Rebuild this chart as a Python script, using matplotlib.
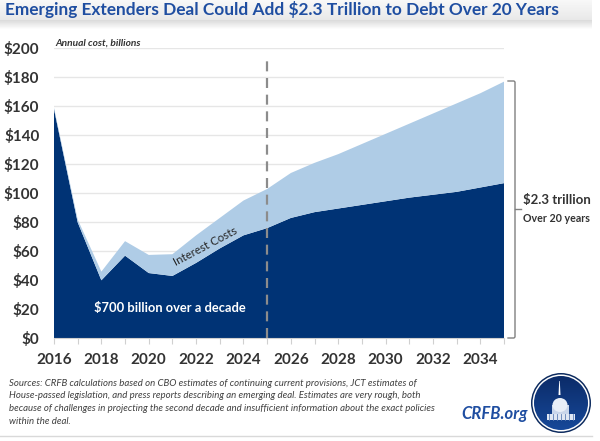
import numpy as np
import matplotlib
matplotlib.use('Agg')
import matplotlib.pyplot as plt
from matplotlib.patches import Circle, Polygon, Rectangle, Ellipse

plt.rcParams['font.family'] = ['Lato', 'DejaVu Sans']

# values, $ billions
years = list(range(2016, 2036))
base_cost = [158, 80, 40, 57, 45, 43, 52, 62, 71, 76,
             83, 87, 89.5, 92, 94.5, 97, 99, 101, 104, 107]
total_cost = [159, 82, 46, 67, 57.5, 58, 71, 83, 95, 103,
              114, 121, 127, 134, 141, 148, 155, 162, 169, 177]
y_ticks = list(range(0, 201, 20))
x_labels = list(range(2016, 2035, 2))

NAVY = '#003375'
LIGHT = '#afcce6'
TEXT = '#333333'
BLUE = '#1f4ea1'
W, H = 600, 441

fig = plt.figure(figsize=(6, 4.41), dpi=100, facecolor='white')

# overlay in pixel coordinates for the decorations and notes
bg = fig.add_axes([0, 0, 1, 1], zorder=0)
bg.axis('off')

# title bar with soft shadow
band = np.concatenate([np.linspace(0.97, 0.91, 20), np.linspace(0.86, 1.0, 10)])[:, None]
bg.imshow(band, cmap='gray', vmin=0, vmax=1, extent=(0, 592, 30, 0), aspect='auto')
bg.set_xlim(0, W)
bg.set_ylim(H, 0)
bg.plot([0, 592], [436, 436], color='#d9d9d9', lw=1)

# main chart
ax = fig.add_axes([54 / W, 1 - 338.3 / H, 450 / W, 290 / H], zorder=1)
ax.patch.set_alpha(0)
ax.stackplot(years, base_cost, np.array(total_cost) - np.array(base_cost),
             colors=[NAVY, LIGHT], linewidth=0, zorder=2)
ax.set_xlim(2016, 2035)
ax.set_ylim(0, 200)
ax.set_yticks(y_ticks)
ax.set_yticklabels([f'${v}' for v in y_ticks], fontsize=11, fontweight='bold', color=TEXT)
ax.set_xticks(years)
ax.set_xticklabels([str(y) if y in x_labels else '' for y in years],
                   fontsize=11, fontweight='bold', color=TEXT)
ax.tick_params(axis='y', length=0, pad=10.5)
ax.tick_params(axis='x', length=4, color='#d0d0d0', pad=6.5)
ax.grid(axis='y', color='#e6e6e6', lw=1)
ax.set_axisbelow(True)
for side in ['top', 'right', 'left']:
    ax.spines[side].set_visible(False)
ax.spines['bottom'].set_color('#d0d0d0')
ax.axvline(2025, ymax=0.955, color='#8c8c8c', lw=1.6, dashes=(4.5, 3), zorder=3)
ax.text(2022.4, 63.5, 'Interest Costs', rotation=28, ha='center', va='center',
        fontsize=8.3, color='#262626', zorder=4)
ax.text(2020.9, 21, '$700 billion over a decade', ha='center', va='center',
        fontsize=9.3, fontweight='bold', color='white', zorder=4)

# top layer for text and logo
top = fig.add_axes([0, 0, 1, 1], zorder=2)
top.axis('off')

top.text(5, 10, 'Emerging Extenders Deal Could Add $2.3 Trillion to Debt Over 20 Years',
         fontsize=12.4, fontweight='bold', color=BLUE, ha='left', va='center')
top.text(55, 43, 'Annual cost, billions', fontsize=7.3, fontweight='bold', style='italic',
         color=TEXT, ha='left', va='center')

# bracket
top.plot([508, 514, 515, 515, 514, 508], [81, 81, 82, 337, 338, 338], color='#808080', lw=1)
top.plot([515, 521], [209, 209], color='#808080', lw=1)
top.text(523, 200, '$2.3 trillion', fontsize=9.5, fontweight='bold', color=TEXT, va='center')
top.text(523, 218, 'Over 20 years', fontsize=7.7, fontweight='bold', color=TEXT, va='center')

sources = ['Sources: CRFB calculations based on CBO estimates of continuing current provisions, JCT estimates of',
           'House-passed legislation, and press reports describing an emerging deal. Estimates are very rough, both',
           'because of challenges in projecting the second decade and insufficient information about the exact policies',
           'within the deal.']
for i, line in enumerate(sources):
    top.text(9, 383 + i * 12.7, line, fontsize=6.95, style='italic', color='#404040', va='center')

top.text(461, 414, 'CRFB.org', fontsize=12, fontweight='bold', style='italic', color=BLUE,
         ha='left', va='center')

# logo
cx, cy, r = 561, 403, 30
top.add_patch(Circle((cx, cy), r, fc='#0c2a5e', ec='none'))
top.add_patch(Circle((cx, cy), r - 1.5, fc='white', ec='none'))
clip = Circle((cx, cy), r - 3, transform=top.transData)
grad = top.imshow(np.linspace(0, 1, 64)[:, None], cmap=matplotlib.colors.LinearSegmentedColormap.from_list(
    'logo', ['#0b2a66', '#174a9c']), extent=(cx - r, cx + r, cy + r, cy - r), aspect='auto', zorder=2)
grad.set_clip_path(clip)
top.set_xlim(0, W)
top.set_ylim(H, 0)
top.add_patch(Rectangle((cx - 14, cy + 11), 28, 6, fc='#dfe7f3', ec='none', zorder=3))
for dx in range(-12, 13, 4):
    top.plot([cx + dx] * 2, [cy + 11, cy + 17], color='#5f7fb5', lw=0.6, zorder=4)
top.add_patch(Rectangle((cx - 9, cy + 2), 17, 9, fc='#c9d6ea', ec='none', zorder=3))
top.add_patch(Ellipse((cx - 1, cy + 2), 15, 14, fc='#e8eef7', ec='none', zorder=3))
top.add_patch(Polygon([(cx - 2.5, cy - 8), (cx - 0.5, cy - 8), (cx - 1.2, cy - 22), (cx - 1.8, cy - 22)],
                      fc='white', ec='none', zorder=3))

fig.savefig('out.png', dpi=100)
